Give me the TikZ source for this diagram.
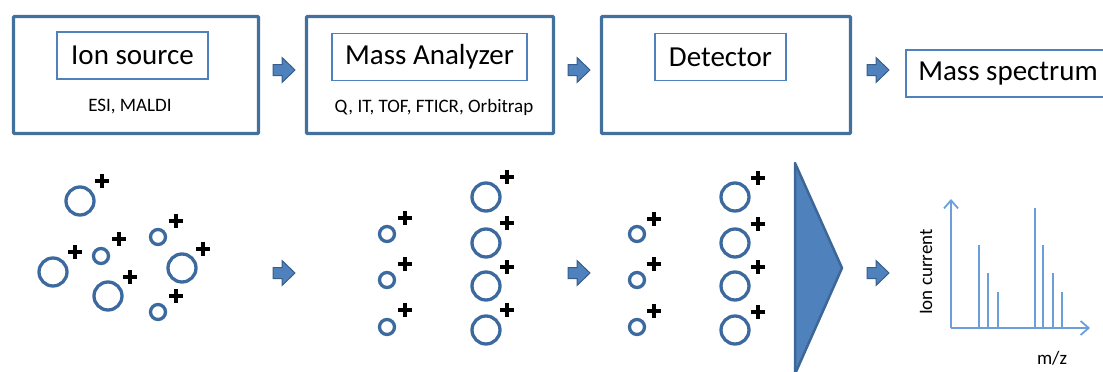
\documentclass[tikz,border=0pt]{standalone}
\usepackage{fontspec}
\setmainfont{Carlito}
\usetikzlibrary{arrows.meta}

\definecolor{frameblue}{RGB}{65,113,156}
\definecolor{labelblue}{RGB}{79,129,189}
\definecolor{ionblue}{RGB}{61,106,158}
\definecolor{arrowfill}{RGB}{79,129,189}
\definecolor{arrowline}{RGB}{56,93,138}
\definecolor{specblue}{RGB}{108,158,218}
\definecolor{detline}{RGB}{60,103,151}

\begin{document}
\begin{tikzpicture}[x=1pt,y=-1pt,
  stage/.style={draw=frameblue, line width=3.2pt, minimum width=#1, minimum height=117pt,
                rounded corners=1pt, inner sep=0pt},
  label/.style={draw=labelblue, line width=1.2pt, minimum width=#1, minimum height=47pt,
                inner sep=0pt, font=\fontsize{29}{34}\selectfont},
  note/.style={font=\fontsize{19}{22}\selectfont, inner sep=0pt},
  bigion/.style={circle, draw=ionblue, line width=3.3pt, minimum size=28pt, inner sep=0pt},
  smallion/.style={circle, draw=ionblue, line width=3.3pt, minimum size=15pt, inner sep=0pt},
  charge/.pic={\draw[line width=3.2pt, black] (-7,0) -- (7,0) (0,-7) -- (0,7);},
  flow/.pic={\draw[fill=arrowfill, draw=arrowline, line width=1pt]
              (0,-5.5) -- (9,-5.5) -- (9,-12.5) -- (22,0) -- (9,12.5) -- (9,5.5) -- (0,5.5) -- cycle;},
  spec/.style={draw=specblue, line width=1.8pt},
]
\clip (0,0) rectangle (1103,372);

% ---- instrument stages ----
\node[stage=245pt] (src) at (136,75) {};
\node[stage=247pt] (ana) at (430,75) {};
\node[stage=249pt] (det) at (726,75) {};

\node[label=151pt] (srcname) at (132.5,55.5) {Ion source};
\node[label=195pt] (ananame) at (429.5,57) {Mass Analyzer};
\node[label=131pt] (detname) at (720.5,57) {Detector};
\node[label=204pt, minimum height=47pt] (msname) at (1008,73.5) {Mass spectrum};

\node[note] (srcnote) at (130,107) {ESI, MALDI};
\node[note] (ananote) at (434,107) {Q, IT, TOF, FTICR, Orbitrap};

% ---- block arrows between stages ----
\pic at (273,70) {flow};
\pic at (568,70) {flow};
\pic at (867,70) {flow};
\pic at (273,273) {flow};
\pic at (568,273) {flow};
\pic at (867,273) {flow};

% ---- ions leaving the source ----
\node[bigion]   (s1) at (80,201) {};   \pic at (102,181) {charge};
\node[smallion] (s2) at (101,256) {};  \pic at (119,239) {charge};
\node[bigion]   (s3) at (53,272) {};   \pic at (75,252) {charge};
\node[bigion]   (s4) at (108,296) {};  \pic at (130,277) {charge};
\node[smallion] (s5) at (158,237) {};  \pic at (176,221) {charge};
\node[bigion]   (s6) at (182,268) {};  \pic at (203,249) {charge};
\node[smallion] (s7) at (158,312) {};  \pic at (176,296) {charge};

% ---- ions sorted by the analyzer ----
\foreach \y/\py [count=\i] in {234/218, 280/264, 327/310} {
  \node[smallion] (a\i) at (387,\y) {}; \pic at (405,\py) {charge};
}
\foreach \y/\py [count=\i] in {197/177, 243/223, 286/267, 330/310} {
  \node[bigion] (b\i) at (486,\y) {}; \pic at (507,\py) {charge};
}

% ---- ions reaching the detector ----
\foreach \y/\py [count=\i] in {234/219, 280/264, 327/311} {
  \node[smallion] (c\i) at (637,\y) {}; \pic at (654,\py) {charge};
}
\foreach \y/\py [count=\i] in {197/178, 243/224, 286/267, 330/312} {
  \node[bigion] (d\i) at (735,\y) {}; \pic at (758,\py) {charge};
}

% ---- detector plate ----
\draw[fill=arrowfill, draw=detline, line width=2.5pt, line join=round]
  (795,163) -- (842,268) -- (795,374) -- cycle;

% ---- spectrum ----
\coordinate (org) at (951,328);
\coordinate (ytop) at (951,199);
\coordinate (xend) at (1090,328);
\draw[spec, -{Straight Barb[length=8pt,width=14pt]}] (org) -- (ytop);
\draw[spec, -{Straight Barb[length=8pt,width=14pt]}] (org) -- (xend);
\foreach \x/\h in {979/245, 988/273, 998/292, 1035/208, 1043/245, 1053/273, 1062/292} {
  \draw[spec] (\x,328) -- (\x,\h);
}
\node[note, rotate=90] (ylabel) at (926,272) {Ion current};
\node[note] (xlabel) at (1052,358) {m/z};
\end{tikzpicture}
\end{document}
